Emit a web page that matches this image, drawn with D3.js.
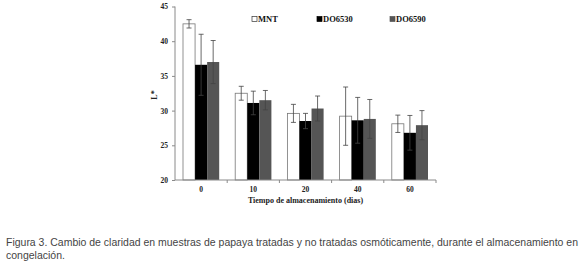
<!DOCTYPE html>
<html lang="es">
<head>
  <meta charset="utf-8">
  <title>Figura 3</title>
  <script src="https://d3js.org/d3.v7.min.js"></script>
  <style>
    html, body { margin: 0; padding: 0; background: #fff; }
    svg { display: block; }
    .tick text { font-family: "Liberation Serif", serif; font-weight: bold; font-size: 7.5px; fill: #222; }
    .axis path, .axis line { stroke: #8a8a8a; }
  </style>
</head>
<body>
  <svg id="chart" width="580" height="264"></svg>
  <script>
    // storage days and series
    const days = ['0', '10', '20', '40', '60'];
    const seriesNames = ['MNT', 'DO6530', 'DO6590'];
    const mnt     = [42.5, 32.5, 29.6, 29.2, 28.1];
    const mntErr  = [0.6, 1.0, 1.3, 4.2, 1.25];
    const do6530    = [36.6, 31.1, 28.5, 28.6, 26.8];
    const do6530Err = [4.4, 1.7, 1.1, 3.3, 2.5];
    const do6590    = [37.0, 31.5, 30.3, 28.8, 27.9];
    const do6590Err = [3.1, 1.4, 1.8, 2.8, 2.1];
    const yTicks = [20, 25, 30, 35, 40, 45];

    const colors = { MNT: '#fff', DO6530: '#000', DO6590: '#555' };
    const values = { MNT: mnt, DO6530: do6530, DO6590: do6590 };
    const errors = { MNT: mntErr, DO6530: do6530Err, DO6590: do6590Err };

    const data = [];
    days.forEach((d, i) => seriesNames.forEach(s => {
      data.push({ day: d, series: s, value: values[s][i], err: errors[s][i] });
    }));

    const svg = d3.select('#chart');
    const plotLeft = 175, plotRight = 436, plotTop = 6.5, plotBottom = 180;

    const x = d3.scaleBand().domain(days).range([plotLeft, plotRight]).paddingInner(0).paddingOuter(0);
    const xs = d3.scaleBand().domain(seriesNames).range([8, x.bandwidth() - 8]).padding(0);
    const y = d3.scaleLinear().domain([20, 45]).range([plotBottom, plotTop]);

    // bars
    svg.append('g').selectAll('rect')
      .data(data)
      .join('rect')
        .attr('x', d => x(d.day) + xs(d.series))
        .attr('y', d => y(d.value))
        .attr('width', xs.bandwidth())
        .attr('height', d => y(20) - y(d.value))
        .attr('fill', d => colors[d.series])
        .attr('stroke', d => d.series === 'MNT' ? '#777' : 'none')
        .attr('stroke-width', 0.8);

    // error bars
    const eb = svg.append('g').attr('stroke', '#444').attr('stroke-width', 0.8);
    data.forEach(d => {
      const cx = x(d.day) + xs(d.series) + xs.bandwidth() / 2;
      const y1 = y(d.value + d.err), y2 = y(d.value - d.err);
      eb.append('line').attr('x1', cx).attr('x2', cx).attr('y1', y1).attr('y2', y2);
      eb.append('line').attr('x1', cx - 2.5).attr('x2', cx + 2.5).attr('y1', y1).attr('y2', y1);
      eb.append('line').attr('x1', cx - 2.5).attr('x2', cx + 2.5).attr('y1', y2).attr('y2', y2);
    });

    // y axis
    svg.append('g')
      .attr('class', 'axis')
      .attr('transform', `translate(${plotLeft},0)`)
      .call(d3.axisLeft(y).tickValues(yTicks).tickSize(3).tickPadding(4).tickSizeOuter(0))
      .call(g => g.select('.domain').attr('d', `M0,${plotTop}V${plotBottom}`));

    // x axis with ticks at band boundaries
    const xAxis = svg.append('g')
      .attr('class', 'axis')
      .attr('transform', `translate(0,${plotBottom})`);
    xAxis.append('line').attr('x1', plotLeft).attr('x2', plotRight).attr('y1', 0).attr('y2', 0);
    days.forEach(d => {
      xAxis.append('line').attr('x1', x(d) + x.bandwidth()).attr('x2', x(d) + x.bandwidth())
        .attr('y1', 0).attr('y2', 3);
      xAxis.append('text')
        .attr('x', x(d) + x.bandwidth() / 2)
        .attr('y', 11.5)
        .attr('text-anchor', 'middle')
        .style('font-family', '"Liberation Serif", serif')
        .style('font-weight', 'bold')
        .style('font-size', '7.5px')
        .style('fill', '#222')
        .text(d);
    });

    // axis titles
    svg.append('text')
      .attr('x', (plotLeft + plotRight) / 2).attr('y', 203)
      .attr('text-anchor', 'middle')
      .style('font-family', '"Liberation Serif", serif')
      .style('font-weight', 'bold').style('font-size', '8px').style('fill', '#222')
      .text('Tiempo de almacenamiento (dias)');
    svg.append('text')
      .attr('transform', 'translate(157,95) rotate(-90)')
      .attr('text-anchor', 'middle')
      .style('font-family', '"Liberation Serif", serif')
      .style('font-weight', 'bold').style('font-size', '8px').style('fill', '#222')
      .text('L*');

    // legend
    const legendX = [252, 317, 390];
    seriesNames.forEach((s, i) => {
      const g = svg.append('g').attr('transform', `translate(${legendX[i]},22)`);
      g.append('rect').attr('x', 0).attr('y', -5.5).attr('width', 5).attr('height', 5)
        .attr('fill', colors[s]).attr('stroke', s === 'MNT' ? '#333' : colors[s]).attr('stroke-width', 0.7);
      g.append('text').attr('x', 6).attr('y', 0)
        .style('font-family', '"Liberation Serif", serif')
        .style('font-weight', 'bold').style('font-size', '8.5px').style('fill', '#111')
        .text(s);
    });

    // caption
    const cap = svg.append('g')
      .style('font-family', '"Liberation Sans", sans-serif')
      .style('font-size', '10.5px').style('fill', '#444');
    const l1 = cap.append('text').attr('x', 6).attr('y', 246)
      .text('Figura 3. Cambio de claridad en muestras de papaya tratadas y no tratadas osmóticamente, durante el almacenamiento en');
    cap.append('text').attr('x', 6).attr('y', 259).text('congelación.');
    const w = l1.node().getComputedTextLength();
    if (w > 572) l1.attr('textLength', 572).attr('lengthAdjust', 'spacingAndGlyphs');
  </script>
</body>
</html>
